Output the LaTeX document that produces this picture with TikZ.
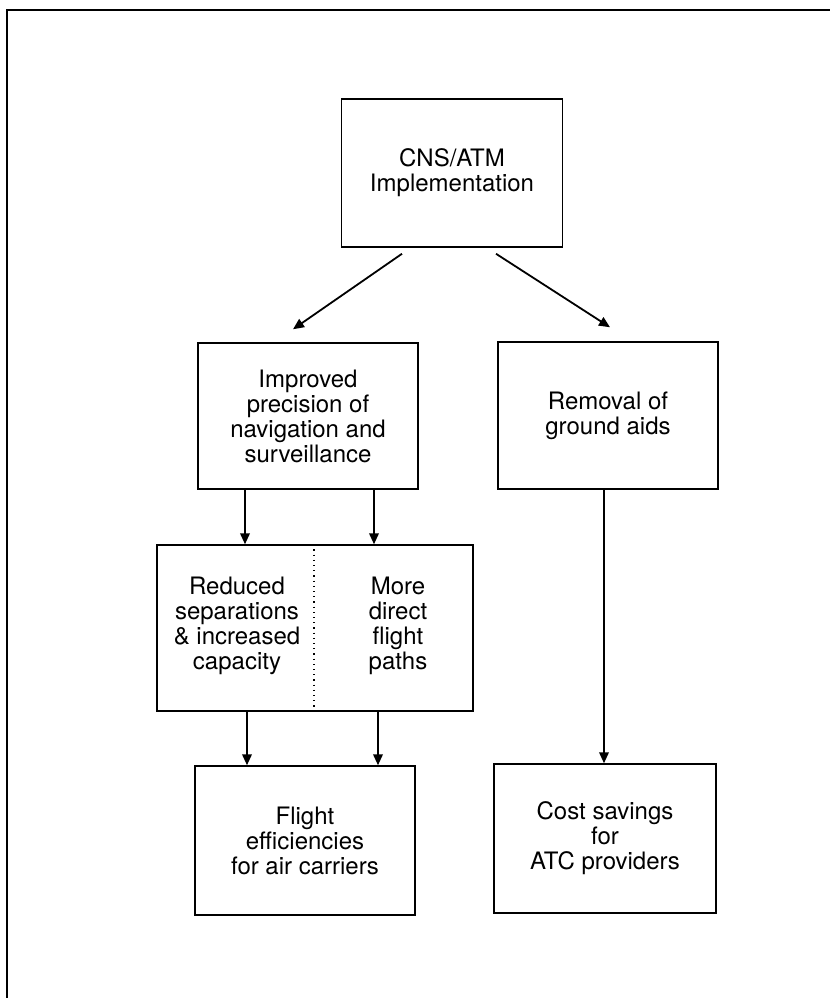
\documentclass[tikz,border=0pt]{standalone}
\usepackage{fontspec}
\setmainfont{TeX Gyre Heros}
\usetikzlibrary{arrows.meta}
\begin{document}
\begin{tikzpicture}[x=0.5pt,y=-0.5pt,
  box/.style={draw, line width=0.75pt, inner sep=0pt, align=center,
    font=\fontsize{12}{12.5}\selectfont},
  label/.style={inner sep=0pt, align=center, font=\fontsize{12}{12.5}\selectfont},
  arr/.style={line width=0.9pt, -{Triangle[length=5.5pt,width=4.8pt]}}]
\useasboundingbox (0,0) rectangle (830,998);

% outer frame (top and left edges only)
\draw[line width=1pt] (830,10) -- (7,10) -- (7,998);

% boxes
\node[box, minimum width=110.5pt, minimum height=74pt] (cns) at (452,173)
  {CNS/ATM\\Implementation};
\node[box, minimum width=110pt, minimum height=73pt] (imp) at (308,416)
  {Improved\\precision of\\navigation and\\surveillance};
\node[box, minimum width=110pt, minimum height=73.5pt] (rem) at (608,415.5)
  {Removal of\\ground aids};
\node[box, minimum width=158pt, minimum height=83pt] (mid) at (315,628) {};
\node[label] (midl) at (237,626) {Reduced\\separations\\\& increased\\capacity};
\node[label] (midr) at (398,626) {More\\direct\\flight\\paths};
\node[box, minimum width=110pt, minimum height=74.5pt] (fli) at (305,840.5)
  {Flight\\efficiencies\\for air carriers};
\node[box, minimum width=111pt, minimum height=74.5pt] (cost) at (605,838.5)
  {Cost savings\\for\\ATC providers};

% divider inside the middle box
\draw[dotted, line width=0.6pt] ([xshift=-0.5pt]mid.north) -- ([xshift=-0.5pt]mid.south);

% connectors
\draw[arr] ([shift={(-50,6)}]cns.south) -- ([shift={(-15,-13)}]imp.north);
\draw[arr] ([shift={(44,6)}]cns.south) -- ([shift={(2,-14)}]rem.north);

\draw[arr] ([shift={(-63,0)}]imp.south) -- ([shift={(-63,0)}]imp.south |- mid.north);
\draw[arr] ([shift={(66,0)}]imp.south) -- ([shift={(66,0)}]imp.south |- mid.north);

\draw[arr] ([shift={(-68,0)}]mid.south) -- ([shift={(-68,0)}]mid.south |- fli.north);
\draw[arr] ([shift={(63,0)}]mid.south) -- ([shift={(63,0)}]mid.south |- fli.north);

\draw[arr] ([shift={(-4,0)}]rem.south) -- ([shift={(-4,0)}]rem.south |- cost.north);
\end{tikzpicture}
\end{document}
